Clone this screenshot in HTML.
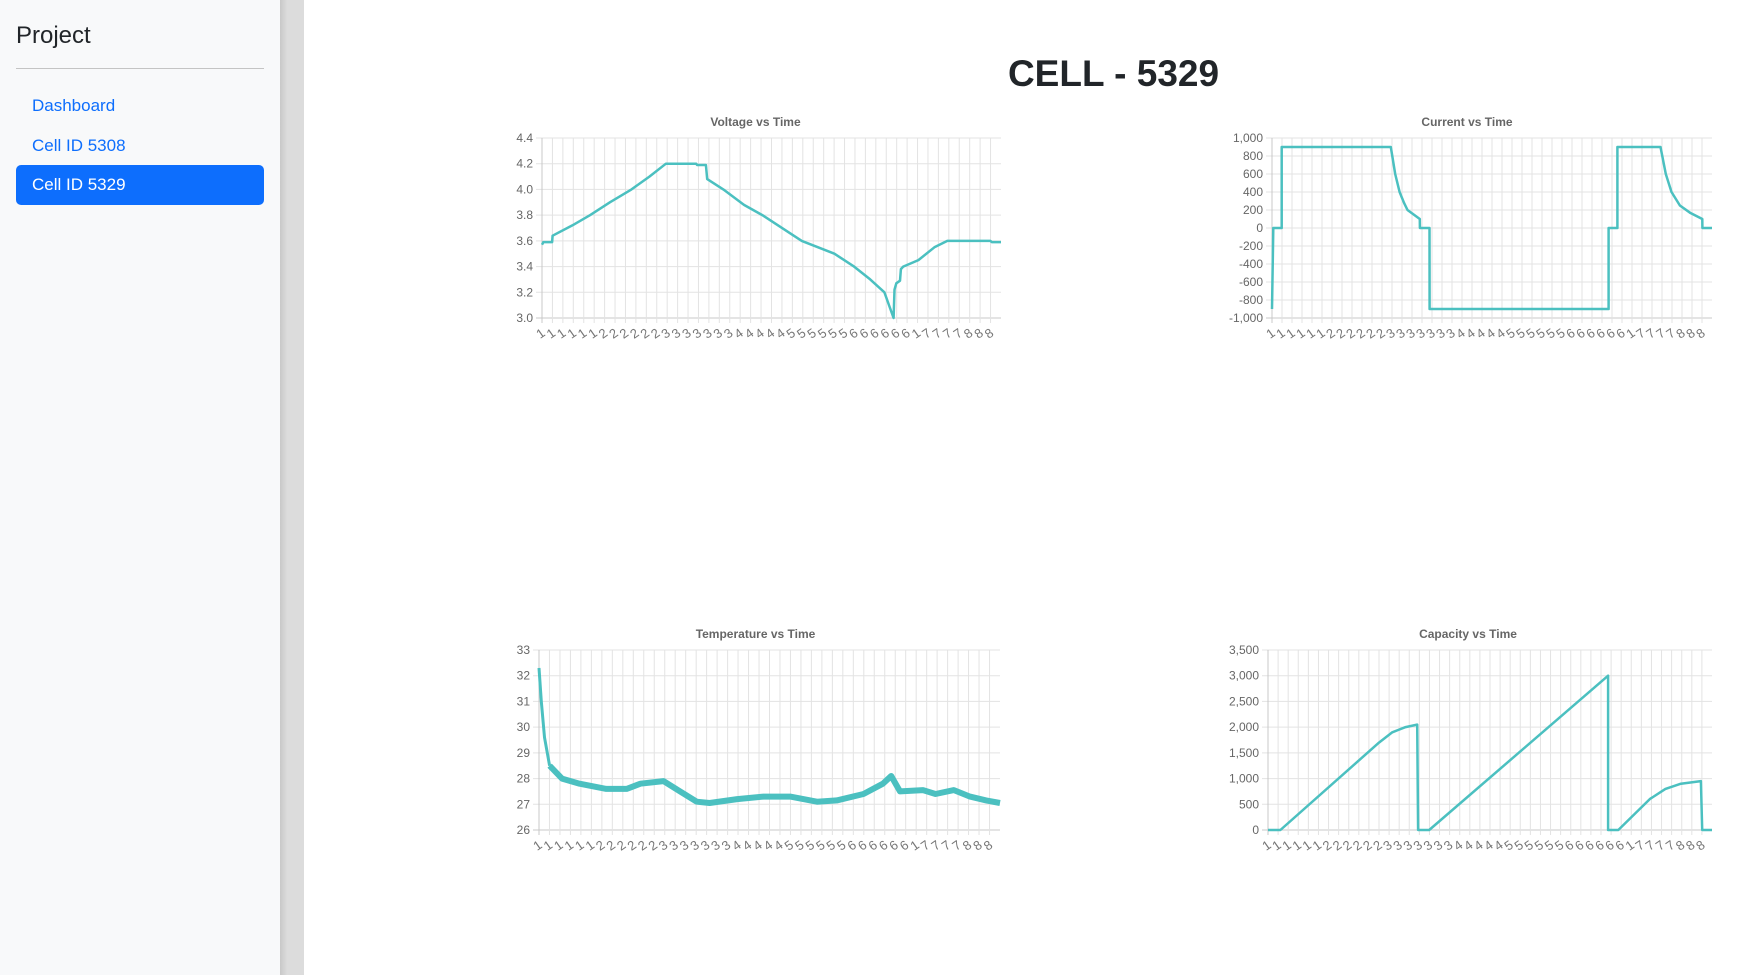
<!DOCTYPE html>
<html><head><meta charset="utf-8">
<style>
body{margin:0;width:1747px;height:975px;position:relative;background:#fff;font-family:"Liberation Sans",sans-serif;overflow:hidden}
#side{position:absolute;left:0;top:0;width:280px;height:975px;background:#f8f9fa}
#bar{position:absolute;left:280px;top:0;width:24px;height:975px;background:linear-gradient(90deg,#c8c8c8,#dcdcdc 30%,#dcdcdc)}
.brand{position:absolute;left:16px;top:22px;font-size:24px;color:#212529}
.hr{position:absolute;left:16px;top:68px;width:248px;height:1px;background:#c4c4c4}
.nav{position:absolute;left:16px;width:248px;height:40px;line-height:40px;padding-left:16px;box-sizing:border-box;font-size:17px;color:#0d6efd;border-radius:5px}
.active{background:#0d6efd;color:#fff}
h1{position:absolute;margin:0;text-align:center;top:53px;font-size:37px;font-weight:bold;color:#212529;left:-760px;width:3747px}
svg{position:absolute;left:0;top:0}
</style></head><body>
<div id="side">
<div class="brand">Project</div>
<div class="hr"></div>
<div class="nav" style="top:86px">Dashboard</div>
<div class="nav" style="top:126px">Cell ID 5308</div>
<div class="nav active" style="top:165px">Cell ID 5329</div>
</div>
<div id="bar"></div>
<h1>CELL - 5329</h1>
<svg id="c" width="1747" height="975"></svg>
<script>
const xTickLabels=["1","1","1","1","1","1","2","2","2","2","2","2","3","3","3","3","3","3","3","4","4","4","4","4","5","5","5","5","5","5","6","6","6","6","6","6","1","7","7","7","7","8","8","8"];
const voltT=[0,0.003,0.022,0.023,0.066,0.105,0.148,0.195,0.234,0.27,0.336,0.338,0.357,0.36,0.395,0.44,0.48,0.566,0.637,0.68,0.715,0.746,0.766,0.768,0.772,0.78,0.782,0.787,0.82,0.855,0.883,0.977,0.98,1];
const voltV=[3.57,3.59,3.59,3.64,3.72,3.8,3.9,4.0,4.1,4.2,4.2,4.19,4.19,4.08,4.0,3.88,3.8,3.6,3.5,3.4,3.3,3.2,3.0,3.22,3.27,3.29,3.38,3.4,3.45,3.55,3.6,3.6,3.59,3.59];
const currT=[0,0.003,0.022,0.0221,0.27,0.28,0.29,0.3,0.308,0.336,0.3361,0.358,0.3581,0.765,0.7651,0.785,0.7851,0.883,0.895,0.908,0.927,0.95,0.978,0.9781,1];
const currV=[-900,0,0,900,900,600,400,280,200,100,0,0,-900,-900,0,0,900,900,600,400,250,170,100,0,0];
const tempT=[0,0.005,0.012,0.023,0.05,0.088,0.146,0.19,0.22,0.27,0.306,0.342,0.37,0.43,0.487,0.545,0.603,0.646,0.704,0.746,0.764,0.783,0.833,0.86,0.9,0.935,0.97,1];
const tempV=[32.3,31.0,29.6,28.5,28.0,27.8,27.6,27.6,27.8,27.9,27.5,27.1,27.05,27.2,27.3,27.3,27.1,27.15,27.4,27.8,28.1,27.5,27.55,27.4,27.55,27.3,27.15,27.05];
const capT=[0,0.028,0.25,0.28,0.31,0.336,0.338,0.363,0.766,0.7661,0.789,0.86,0.895,0.93,0.975,0.978,1];
const capV=[0,0,1700,1900,2000,2050,0,0,3000,0,0,600,800,900,950,0,0];
const NS="http://www.w3.org/2000/svg";
const svg=document.getElementById('c');
function mk(tag,attrs,txt){const e=document.createElementNS(NS,tag);for(const k in attrs)e.setAttribute(k,attrs[k]);if(txt!==undefined)e.textContent=txt;svg.appendChild(e);return e;}
function fmt(v,dec){if(dec)return v.toFixed(1);return v.toLocaleString('en-US');}
function chart(o){
 const W=o.r-o.l,H=o.b-o.t;
 const xs=t=>o.l+t*W, ys=v=>o.b-(v-o.min)/(o.max-o.min)*H;
 const ttl=mk('text',{x:(o.l+o.r)/2+o.toff,y:o.t-12,'text-anchor':'middle','font-size':12,'font-weight':'bold',fill:'#666'},o.title);
 
 
 for(let v=o.min;v<=o.max+1e-9;v+=o.step){
  const y=ys(v);
  const g=mk('line',{x1:o.l-6,x2:o.r,y1:y,y2:y,stroke:Math.abs(v-o.min)<1e-9?'#c8c8c8':'#e3e3e3','stroke-width':1});
  
  
  const tl=mk('text',{x:o.l-9,y:y+4,'text-anchor':'end','font-size':12,fill:'#666'},fmt(Math.round(v*10)/10,o.dec));
  
  
 }
 const sp=W/44;
 xTickLabels.forEach((lab,i)=>{
  const x=o.l+i*sp;
  const g=mk('line',{x1:x,x2:x,y1:o.t,y2:o.b+5,stroke:i==0?'#c8c8c8':'#e3e3e3','stroke-width':1});
  
  
  const tl=mk('text',{x:x+4,y:o.b+17,'text-anchor':'end','font-size':13,fill:'#777',transform:`rotate(-35 ${x+4} ${o.b+17})`},lab);
  
  
 });
 const s=o.start||0;
 let d='';o.T.forEach((t,i)=>{if(i<s)return;d+=(i>s?'L':'M')+xs(t).toFixed(1)+','+ys(o.V[i]).toFixed(1);});
 const p=mk('path',{d:d,fill:'none',stroke:'#4bc0c0','stroke-width':o.sw||2.5,'stroke-linejoin':'round'});
 
 
 if(s){let d2='';o.T.slice(0,s+1).forEach((t,i)=>{d2+=(i?'L':'M')+xs(t).toFixed(1)+','+ys(o.V[i]).toFixed(1);});
  const p2=mk('path',{d:d2,fill:'none',stroke:'#4bc0c0','stroke-width':3,'stroke-linejoin':'round'});
  
  }
}
chart({name:'voltage',title:'Voltage vs Time',l:542,r:1001,t:138,b:318,min:3.0,max:4.4,step:0.2,dec:true,T:voltT,V:voltV,toff:-16});
chart({name:'current',title:'Current vs Time',l:1272,r:1712,t:138,b:318,min:-1000,max:1000,step:200,T:currT,V:currV,toff:-25});
chart({name:'temperature',title:'Temperature vs Time',l:539,r:1000,t:650,b:830,min:26,max:33,step:1,T:tempT,V:tempV,sw:6,start:3,toff:-14});
chart({name:'capacity',title:'Capacity vs Time',l:1268,r:1712,t:650,b:830,min:0,max:3500,step:500,T:capT,V:capV,toff:-22});
</script>
</body></html>
